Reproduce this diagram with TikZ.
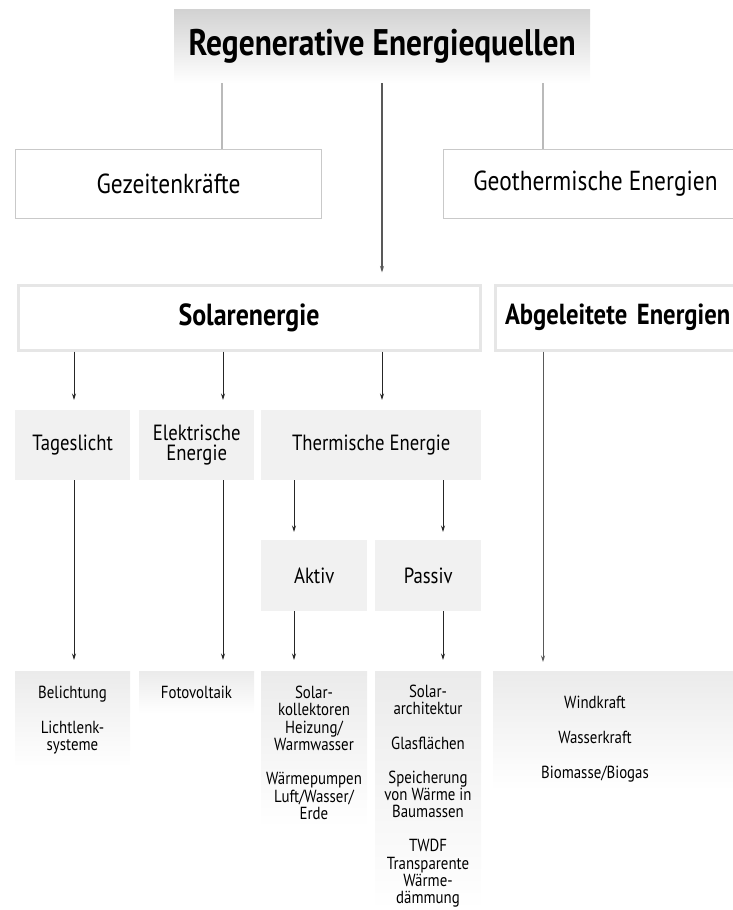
\documentclass[tikz,border=0pt]{standalone}
\usepackage{fontspec}
\setmainfont[FakeStretch=0.85]{PT Sans}
\usetikzlibrary{arrows.meta}
\newcommand\fsz[2]{\fontsize{#1}{#2}\selectfont}
\definecolor{fillgray}{HTML}{F1F1F1}
\definecolor{framegray}{HTML}{C9C9C9}
\definecolor{solargray}{HTML}{E6E6E6}
\definecolor{topgray}{HTML}{D2D2D2}
\definecolor{fadegray}{HTML}{EBEBEB}
\tikzset{
  sideline/.style={draw=black!27, line width=1.1pt},
  mainarr/.style={draw=black!65, line width=1.1pt, -{Stealth[length=6.5pt,width=4pt]}},
  arr/.style={draw=black!85, line width=0.8pt, -{Stealth[length=6.5pt,width=4pt]}},
  framebox/.style={draw=framegray, line width=1pt, fill=white, inner sep=0pt, anchor=north west, align=center, font=\fsz{27.5}{30}},
  solarbox/.style={draw=solargray, line width=3pt, fill=white, inner sep=0pt, anchor=north west, align=center, font=\fsz{30.5}{34}\bfseries},
  greybox/.style={fill=fillgray, inner sep=0pt, anchor=north west, align=center, font=\fsz{22}{20}},
  fadebox/.style={shade, top color=fadegray, bottom color=white, inner sep=0pt, anchor=north west},
  btext/.style={inner sep=0pt, anchor=north, align=center, font=\fsz{17.5}{17.2}},
}
\begin{document}
\begin{tikzpicture}[x=1pt,y=-1pt]
\useasboundingbox (0,0) rectangle (733,910);
\clip (0,0) rectangle (733,910);
% column coordinates
\coordinate (cL) at (222,0);
\coordinate (cM) at (382,0);
\coordinate (cR) at (543,0);
\coordinate (cT) at (74,0);
\coordinate (cE) at (223,0);
\coordinate (cA) at (294,0);
\coordinate (cP) at (443,0);
% title
\node[shade, top color=topgray, bottom color=white, inner sep=0pt, anchor=north west,
      minimum width=416pt, minimum height=74pt, font=\fsz{37}{40}\bfseries] (root) at (174,9) {Regenerative Energiequellen};
% level 1
\node[framebox, minimum width=306pt, minimum height=69pt] (gez) at (15,149) {Gezeitenkr\"afte};
\node[framebox, minimum width=304pt, minimum height=69pt] (geo) at (443,149) {Geothermische Energien};
% level 2
\node[solarbox, minimum width=462pt, minimum height=65pt] (solar) at (16.5,283.5) {Solarenergie};
\node[solarbox, minimum width=300pt, minimum height=65pt, text width=280pt, align=left, inner xsep=9pt, font=\fsz{29}{34}\bfseries] (abg) at (493.5,283.5) {Abgeleitete Energien};
% level 3
\node[greybox, minimum width=115pt, minimum height=70pt] (tag) at (15,410) {Tageslicht};
\node[greybox, minimum width=115pt, minimum height=70pt] (elek) at (139,410) {Elektrische\\Energie};
\node[greybox, minimum width=220pt, minimum height=70pt] (therm) at (261,410) {Thermische Energie};
\node[greybox, minimum width=106pt, minimum height=71pt] (akt) at (261,540) {Aktiv};
\node[greybox, minimum width=106pt, minimum height=71pt] (pas) at (375,540) {Passiv};
% bottom boxes
\node[fadebox, minimum width=115pt, minimum height=96pt] (bel) at (15,671) {};
\node[fadebox, minimum width=115pt, minimum height=42pt] (foto) at (139,671) {};
\node[fadebox, minimum width=106pt, minimum height=156pt] (koll) at (261,671) {};
\node[fadebox, minimum width=106pt, minimum height=239pt] (arch) at (375,671) {};
\node[fadebox, minimum width=260pt, minimum height=119pt] (wind) at (493,671) {};
% bottom texts
\node[btext] (belT) at (72.5,686) {Belichtung\\[17.5pt]Lichtlenk-\\systeme};
\node[btext] (fotoT) at (196.5,686) {Fotovoltaik};
\node[btext] (kollT) at (314,686) {Solar-\\kollektoren\\Heizung/\\Warmwasser\\[17.5pt]W\"armepumpen\\Luft/Wasser/\\Erde};
\node[btext] (archT) at (428,685) {Solar-\\architektur\\[17pt]Glasfl\"achen\\[17pt]Speicherung\\von W\"arme in\\Baumassen\\[17pt]TWDF\\Transparente\\W\"arme-\\d\"ammung};
\node[btext, font=\fsz{17.5}{35}] (windT) at (595,696) {Windkraft\\Wasserkraft\\Biomasse/Biogas};
% connectors
\draw[sideline] (cL |- root.south) -- (cL |- gez.north);
\draw[sideline] (cR |- root.south) -- (cR |- geo.north);
\draw[mainarr, shorten >=11pt] (cM |- root.south) -- (cM |- solar.north);
\draw[arr, shorten >=10pt] (cT |- solar.south) -- (cT |- tag.north);
\draw[arr, shorten >=10pt] (cE |- solar.south) -- (cE |- elek.north);
\draw[arr, shorten >=10pt] (cM |- solar.south) -- (cM |- therm.north);
\draw[mainarr, line width=0.9pt, shorten >=9pt] (cR |- abg.south) -- (cR |- wind.north);
\draw[arr, shorten >=8pt] (cA |- therm.south) -- (cA |- akt.north);
\draw[arr, shorten >=8pt] (cP |- therm.south) -- (cP |- pas.north);
\draw[arr, shorten >=11pt] (cT |- tag.south) -- (cT |- bel.north);
\draw[arr, shorten >=11pt] (cE |- elek.south) -- (cE |- foto.north);
\draw[arr, shorten >=11pt] (cA |- akt.south) -- (cA |- koll.north);
\draw[arr, shorten >=11pt] (cP |- pas.south) -- (cP |- arch.north);
\end{tikzpicture}
\end{document}
